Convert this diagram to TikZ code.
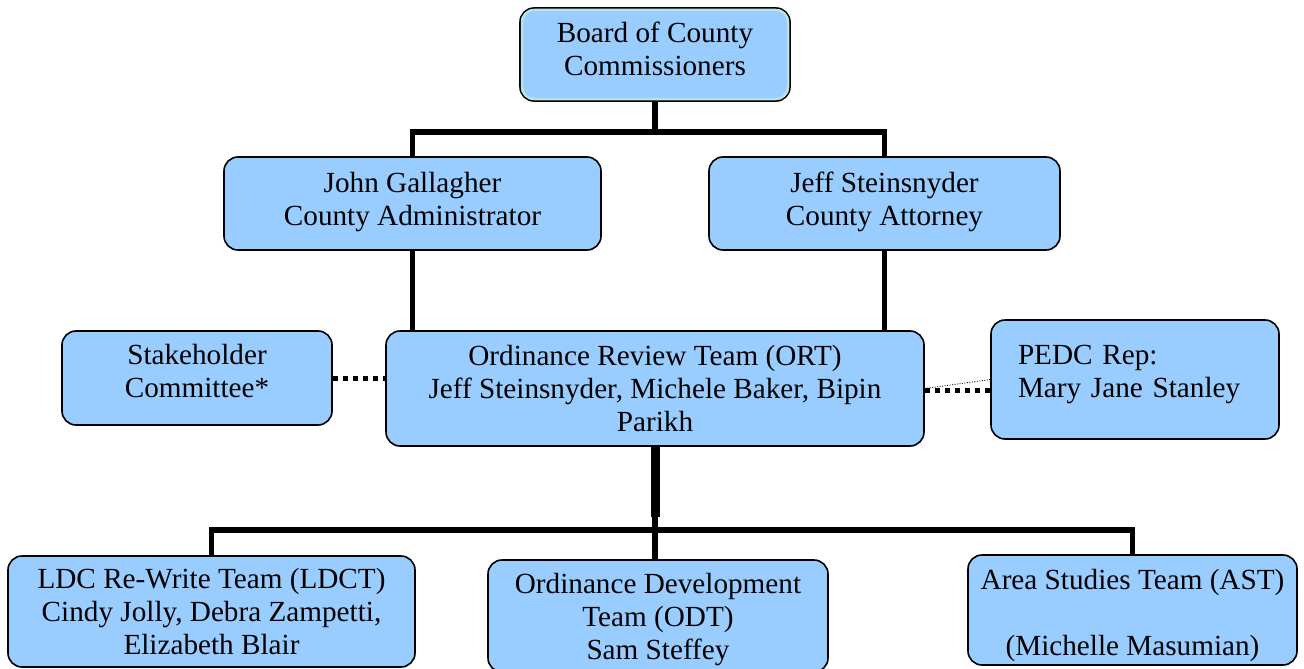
\documentclass[tikz,border=0pt]{standalone}
\usepackage{fontspec}
\setmainfont{Liberation Serif}
\definecolor{boxblue}{HTML}{99CCFF}
\definecolor{ringc}{HTML}{B9E2E4}
\newcommand{\lift}[3][c]{\raisebox{#2}[\height][\depth]{\begin{tabular}{@{}#1@{}}#3\end{tabular}}}
\begin{document}
\begin{tikzpicture}[x=1pt,y=-1pt,
  box/.style={draw=black, line width=1.6pt, fill=boxblue, rounded corners=14pt,
    font=\fontsize{29.2}{33}\selectfont, inner sep=0pt},
  conn/.style={line width=5.5pt},
  dotconn/.style={line width=5pt, dash pattern=on 5pt off 5pt},
  thindot/.style={line width=0.8pt, dash pattern=on 1pt off 1.5pt}]
\useasboundingbox (0,0) rectangle (1304,669);
\node[box, minimum width=270pt, minimum height=93pt] (board) at (655,54.5) {\lift{2pt}{Board of County\\Commissioners}};
\draw[ringc, line width=2.5pt, rounded corners=12pt] ([shift={(2.8,2.8)}]board.north west) rectangle ([shift={(-2.8,-2.8)}]board.south east);
\node[box, minimum width=377pt, minimum height=93pt] (john) at (412.5,203.5) {\lift{1pt}{John Gallagher\\County Administrator}};
\node[box, minimum width=351pt, minimum height=93pt] (jeff) at (884.5,203.5) {\lift{1pt}{Jeff Steinsnyder\\County Attorney}};
\node[box, minimum width=270pt, minimum height=94pt] (stake) at (197,378) {\lift{4pt}{Stakeholder\\Committee*}};
\node[box, minimum width=538pt, minimum height=115pt] (ort) at (655,388.5) {\lift{-3pt}{Ordinance Review Team (ORT)\\Jeff Steinsnyder, Michele Baker, Bipin\\Parikh}};
\node[box, minimum height=119pt, text width=234pt, inner xsep=27pt] (pedc) at (1135,379.5) {\lift[l]{5pt}{PEDC Rep:\\Mary Jane Stanley}};
\node[box, minimum width=407pt, minimum height=111pt] (ldct) at (211.5,611.5) {\lift{-3pt}{LDC Re-Write Team (LDCT)\\Cindy Jolly, Debra Zampetti,\\Elizabeth Blair}};
\node[box, minimum width=340pt, minimum height=112pt] (odt) at (658,616) {\lift{-4pt}{Ordinance Development\\Team (ODT)\\Sam Steffey}};
\node[box, minimum width=329pt, minimum height=110pt] (ast) at (1132.5,610) {\lift{-6pt}{Area Studies Team (AST)\\ \\(Michelle Masumian)}};
\coordinate (bj) at (655,132);
\coordinate (bj2) at (655,530);
\coordinate (thin) at (655,517);
\draw[conn] (board.south) -- (bj);
\draw[conn] (john.north) |- (bj) -| (jeff.north);
\draw[conn] (john.south) -- (john.south |- ort.north);
\draw[conn] (jeff.south) -- (jeff.south |- ort.north);
\draw[conn, line width=9pt] (ort.south) -- (thin);
\draw[conn] (thin) -- (ort.south |- odt.north);
\draw[conn] (ldct.north) |- (bj2) -| (ast.north);
\draw[dotconn] (stake.east) -- (stake.east -| ort.west);
\draw[dotconn] ([yshift=-2pt]ort.east) -- ([yshift=-2pt]ort.east -| pedc.west);
\draw[thindot] (ort.east) -- (pedc.west);
\end{tikzpicture}
\end{document}
